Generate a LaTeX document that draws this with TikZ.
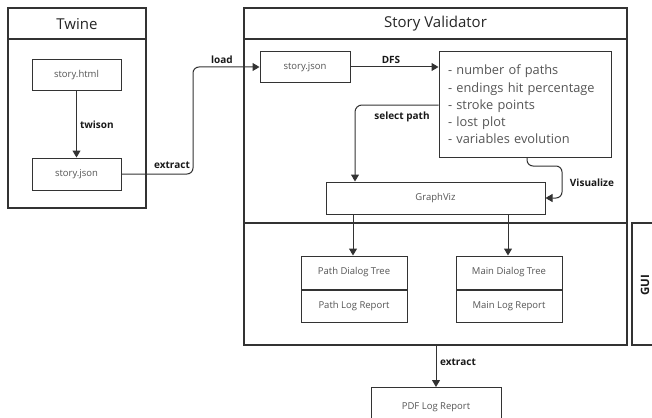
\documentclass[tikz,border=0pt]{standalone}
\usepackage{fontspec}
\setmainfont{Open Sans}
\usetikzlibrary{arrows.meta}
\definecolor{ln}{HTML}{333333}
\definecolor{gt}{HTML}{555555}
\begin{document}
\begin{tikzpicture}[x=1pt,y=-1pt,
  frame/.style={draw=ln, line width=1.2pt, fill=white, inner sep=0pt},
  box/.style={draw=ln, line width=1pt, fill=white, inner sep=0pt, text=gt, font=\fontsize{9.5}{11}\selectfont},
  title/.style={text=black!85, font=\fontsize{15}{17}\selectfont},
  lbl/.style={text=black!90, font=\fontsize{10}{12}\selectfont\bfseries, inner sep=1pt},
  conn/.style={draw=ln, line width=1pt},
  arr/.style={conn, -{Triangle[length=7pt,width=8pt]}},
  sep/.style={draw=ln, line width=1.2pt}]
\useasboundingbox (0,0) rectangle (652,417);
\clip (0,0) rectangle (652,417);

% Twine frame
\node[frame, minimum width=138pt, minimum height=200pt] (twine) at (77,108) {};
\coordinate (twhl) at (8,39);
\draw[sep] (twhl) -- (twhl -| twine.east);
\node[title] (twinet) at (77,24) {Twine};
\node[box, minimum width=89pt, minimum height=31pt] (html) at (76.5,75.5) {story.html};
\node[box, minimum width=89pt, minimum height=32pt] (json1) at (76.5,174) {story.json};

% Story Validator frame
\node[frame, minimum width=383pt, minimum height=337pt] (val) at (435.5,176.5) {};
\coordinate (vhl) at (244,39);
\coordinate (vdl) at (244,223);
\draw[sep] (vhl) -- (vhl -| val.east);
\draw[sep] (vdl) -- (vdl -| val.east);
\node[title] (valt) at (435.5,24) {Story Validator};

% GUI frame
\node[frame, minimum width=40pt, minimum height=122pt] (gui) at (652,284) {};
\node[lbl, rotate=90, font=\fontsize{11.5}{13}\selectfont\bfseries] (guit) at (645,285) {GUI};

\node[box, minimum width=90pt, minimum height=31pt] (vjson) at (305,67) {story.json};
\node[box, minimum width=172pt, minimum height=105pt, align=left, text width=154pt,
      font=\fontsize{12.8}{17.2}\selectfont] (met) at (525,104.5)
  {- number of paths\\- endings hit percentage\\- stroke points\\- lost plot\\- variables evolution};
\node[box, minimum width=219pt, minimum height=32pt] (gv) at (435.5,198) {GraphViz};

\node[box, minimum width=106pt, minimum height=33pt] (pdt) at (354,272.5) {Path Dialog Tree};
\node[box, minimum width=106pt, minimum height=32pt, anchor=north] (plr) at (pdt.south) {Path Log Report};
\node[box, minimum width=106pt, minimum height=33pt] (mdt) at (509,272.5) {Main Dialog Tree};
\node[box, minimum width=106pt, minimum height=32pt, anchor=north] (mlr) at (mdt.south) {Main Log Report};

\node[box, minimum width=130pt, minimum height=40pt, anchor=north] (pdf) at (436,387) {PDF Log Report};

% connectors
\draw[arr] (html) -- (json1) node[lbl, midway, right=2pt] (twl) {twison};
\coordinate (xa) at (193,0);
\draw[arr, rounded corners=6pt] (json1.east) -- (json1.east -| xa) -- (xa |- vjson.west) -- (vjson.west);
\node[lbl] (extl) at (172,165) {extract};
\node[lbl] (loadl) at (222,60) {load};
\draw[arr] (vjson.east) -- (vjson.east -| met.west) ;
\node[lbl] (dfsl) at (391,60) {DFS};
\coordinate (sp) at (355,105);
\draw[arr, rounded corners=7pt] (met.west |- sp) -- (sp) -- (sp |- gv.north);
\node[lbl] (spl) at (402,117) {select path};
\coordinate (v0) at (527,0);
\coordinate (v1) at (527,166);
\coordinate (v2) at (562,198);
\draw[arr, rounded corners=6pt] (v0 |- met.south) -- (v1) -- (v1 -| v2) -- (v2) -- (v2 -| gv.east);
\node[lbl] (visl) at (592,183) {Visualize};
\coordinate (g1) at (353,0);
\coordinate (g2) at (508,0);
\draw[arr] (g1 |- gv.south) -- (g1 |- pdt.north);
\draw[arr] (g2 |- gv.south) -- (g2 |- mdt.north);
\coordinate (e1) at (436,0);
\draw[arr] (e1 |- val.south) -- (pdf.north);
\node[lbl] (ext2) at (458,362) {extract};
\end{tikzpicture}
\end{document}
